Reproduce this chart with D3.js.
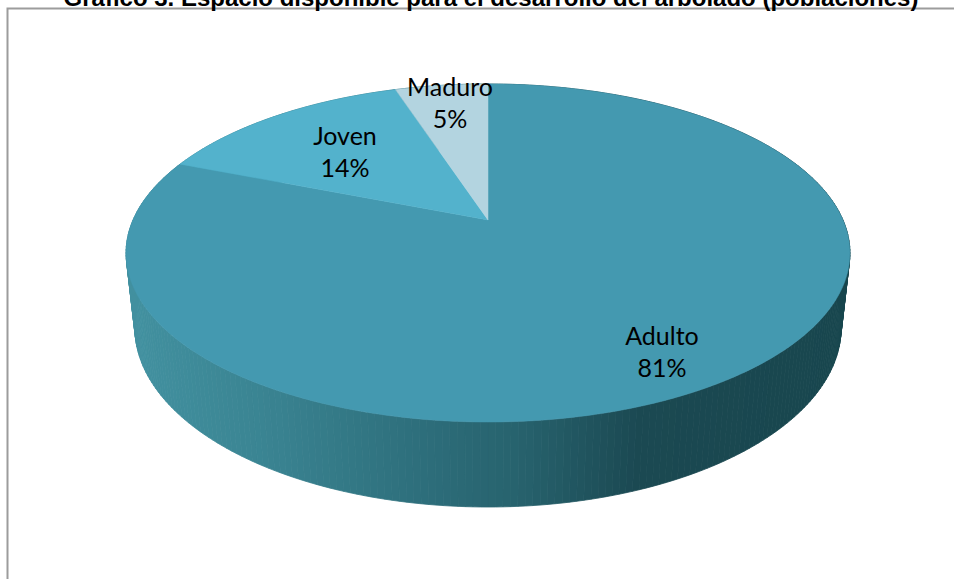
<!DOCTYPE html>
<html>
<head>
<meta charset="utf-8">
<script src="https://cdn.jsdelivr.net/npm/d3@7"></script>
<style>
  html, body { margin: 0; padding: 0; background: #ffffff; }
  svg { display: block; }
</style>
</head>
<body>
<svg id="chart" width="954" height="579"></svg>
<script>
// Data
const categories = ["Adulto", "Joven", "Maduro"];
const values = [81, 14, 5];
const labels = ["81%", "14%", "5%"];
const colors = ["#4499b0", "#53b2cc", "#b3d4e0"];
const titleText = "Gráfico 3. Espacio disponible para el desarrollo del arbolado (poblaciones)";

const svg = d3.select("#chart");
const W = 954, H = 579;

// Chart frame (only top and left edges fall inside the view)
svg.append("path")
  .attr("d", `M7.5,${H} L7.5,8.5 L${W},8.5`)
  .attr("fill", "none")
  .attr("stroke", "#9c9c9c")
  .attr("stroke-width", 2);

// Title
svg.append("text")
  .attr("x", 491)
  .attr("y", 6)
  .attr("text-anchor", "middle")
  .attr("font-family", "Liberation Sans, Arial, sans-serif")
  .attr("font-weight", "bold")
  .attr("font-size", 24)
  .attr("fill", "#000")
  .text(titleText);

// 3D perspective projection of a unit disk
const cx = 488, cy = 220;
const tilt = Math.asin(0.458);
const sT = Math.sin(tilt), cT = Math.cos(tilt);
const dist = 4.555, focal = 1617;
const thick = 0.2386;

function project(x, y, z) {
  const Y = y * cT + z * sT;
  const Z = z * cT - y * sT;
  return [cx + focal * x / (dist + Z), cy - focal * Y / (dist + Z)];
}
function rim(a, y) {
  // a: d3.pie angle (0 at 12 o'clock, clockwise)
  return project(Math.sin(a), y, Math.cos(a));
}

const pie = d3.pie().sort(null).value(d => d)(values);
const line = d3.line();
const step = Math.PI / 180;

// Side wall: shading follows horizontal position
const sideShade = d3.scaleLinear()
  .domain([127, 260, 400, 520, 640, 849])
  .range(["#4291a0", "#3a8492", "#2f717e", "#27626d", "#1b4952", "#18464e"])
  .clamp(true);

const sideG = svg.append("g");
const segs = [];
pie.forEach((p, i) => {
  for (let a = p.startAngle; a < p.endAngle - 1e-9; a += step) {
    const b = Math.min(a + step, p.endAngle);
    const mid = (a + b) / 2;
    segs.push({ a, b, depth: Math.cos(mid) });
  }
});
segs.sort((u, v) => v.depth - u.depth);
segs.forEach(s => {
  const pts = [rim(s.a, 0), rim(s.b, 0), rim(s.b, -thick), rim(s.a, -thick)];
  const mx = (pts[0][0] + pts[1][0]) / 2;
  const c = sideShade(mx);
  sideG.append("path")
    .attr("d", line(pts) + "Z")
    .attr("fill", c)
    .attr("stroke", c)
    .attr("stroke-width", 0.8);
});

// Top faces
const topG = svg.append("g");
pie.forEach((p, i) => {
  const pts = [project(0, 0, 0)];
  const n = Math.max(2, Math.ceil((p.endAngle - p.startAngle) / (step / 2)));
  for (let k = 0; k <= n; k++) {
    const a = p.startAngle + (p.endAngle - p.startAngle) * k / n;
    pts.push(rim(a, 0));
  }
  topG.append("path")
    .attr("d", line(pts) + "Z")
    .attr("fill", colors[i])
    .attr("stroke", colors[i])
    .attr("stroke-width", 0.5);
});

// Data labels
const labelPos = [[662, 345], [345, 145], [450, 96]];
const lblG = svg.append("g")
  .attr("font-family", "Lato, 'Open Sans', sans-serif")
  .attr("font-size", 25)
  .attr("fill", "#000")
  .attr("text-anchor", "middle");
categories.forEach((c, i) => {
  const t = lblG.append("text")
    .attr("x", labelPos[i][0])
    .attr("y", labelPos[i][1]);
  t.append("tspan").attr("x", labelPos[i][0]).text(c);
  t.append("tspan").attr("x", labelPos[i][0]).attr("dy", 32).text(labels[i]);
});
</script>
</body>
</html>
